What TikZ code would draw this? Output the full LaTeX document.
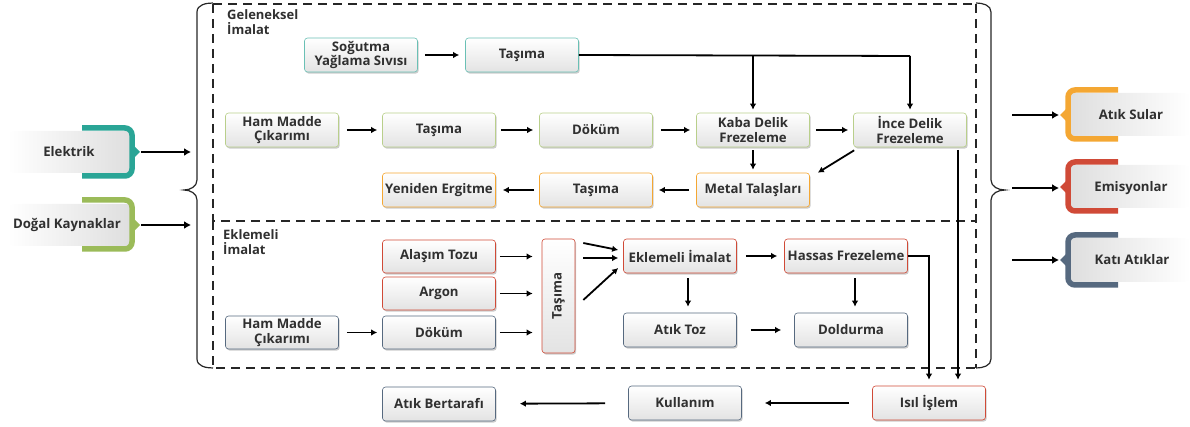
\documentclass[tikz,border=0pt]{standalone}
\usepackage{fontspec}
\setmainfont{Open Sans}
\usetikzlibrary{arrows.meta,shadows,calc}
\definecolor{cteal}{HTML}{2AA596}
\definecolor{cgreen}{HTML}{9BBB59}
\definecolor{corange}{HTML}{F4A733}
\definecolor{cred}{HTML}{D04A37}
\definecolor{cslate}{HTML}{56697F}
\definecolor{ctext}{HTML}{303030}
\tikzset{
  box/.style={draw=#1, line width=0.6pt, rounded corners=3pt, top color=white, bottom color=black!11,
    minimum width=113pt, minimum height=34pt, align=center, text=ctext, inner sep=1pt,
    drop shadow={shadow xshift=1.2pt, shadow yshift=-1.6pt, opacity=0.2, fill=black}},
  arr/.style={line width=1.8pt, -{Latex[length=6pt,width=6.5pt]}},
  bigarr/.style={line width=2.6pt, -{Latex[length=7pt,width=8pt]}},
  ln/.style={line width=1.8pt},
  lbl/.style={text=ctext, align=left, anchor=north west, inner sep=0pt, font=\bfseries\fontsize{13}{15}\selectfont},
  sidetxt/.style={text=ctext, inner sep=0pt},
  dash box/.style={line width=1.2pt, dash pattern=on 9pt off 6pt, black!85},
  brace/.style={line width=1.2pt, black!85}
}
\begin{document}
\begin{tikzpicture}[x=1pt,y=-1pt, font=\bfseries\fontsize{13.2}{14.5}\selectfont]
\useasboundingbox (0,0) rectangle (1190,427);

% braces
\draw[brace] (213,3) to[out=180,in=90] (197,12) -- (197,180) to[out=-90,in=0] (184,190)
  to[out=0,in=90] (197,200) -- (197,359) to[out=-90,in=180] (213,368);
\draw[brace] (976,3) to[out=0,in=90] (991,12) -- (991,180) to[out=-90,in=180] (1005,190)
  to[out=180,in=90] (991,200) -- (991,359) to[out=-90,in=0] (976,368);

% dashed frames
\draw[dash box] (213,4) -- (976,4);
\draw[dash box] (213,4) -- (213,221) -- (976,221);
\draw[dash box] (213,221) -- (213,368) -- (976,368);
\draw[dash box] (976,4) -- (976,368);

\node[lbl] (gel) at (227,9) {Geleneksel\\İmalat};
\node[lbl] (ekm) at (223,229) {Eklemeli\\İmalat};

% left side items
\shade[left color=white, right color=black!13, rounded corners=5pt] (8,131) rectangle (133,173);
\draw[cteal, line width=5.5pt, rounded corners=7pt] (82,128) -- (132,128) -- (132,176) -- (82,176);
\fill[cteal] (134,146) -- (140,152) -- (134,158) -- cycle;
\node[sidetxt] (elek) at (69,152) {Elektrik};
\coordinate (elekout) at (141,152);
\coordinate (lb1) at (191,152);

\shade[left color=white, right color=black!13, rounded corners=5pt] (8,204) rectangle (133,246);
\draw[cgreen, line width=5.5pt, rounded corners=7pt] (82,200) -- (132,200) -- (132,249) -- (82,249);
\fill[cgreen] (134,219) -- (140,225) -- (134,231) -- cycle;
\node[sidetxt] (dogal) at (67,225) {Doğal Kaynaklar};
\coordinate (dogalout) at (141,225);
\coordinate (lb2) at (191,225);

\draw[bigarr] (elekout) -- (lb1);
\draw[bigarr] (dogalout) -- (lb2);

% right side items
\shade[left color=black!13, right color=white, rounded corners=5pt] (1068,93) rectangle (1190,136);
\draw[corange, line width=5.5pt, rounded corners=7pt] (1118,90) -- (1068,90) -- (1068,139) -- (1118,139);
\fill[corange] (1066,109) -- (1060,115) -- (1066,121) -- cycle;
\node[sidetxt] (atik) at (1131,115) {Atık Sular};

\shade[left color=black!13, right color=white, rounded corners=5pt] (1068,165) rectangle (1190,208);
\draw[cred, line width=5.5pt, rounded corners=7pt] (1118,162) -- (1068,162) -- (1068,211) -- (1118,211);
\fill[cred] (1066,181) -- (1060,187) -- (1066,193) -- cycle;
\node[sidetxt] (emis) at (1131,188) {Emisyonlar};

\shade[left color=black!13, right color=white, rounded corners=5pt] (1068,238) rectangle (1190,282);
\draw[cslate, line width=5.5pt, rounded corners=7pt] (1118,235) -- (1068,235) -- (1068,285) -- (1118,285);
\fill[cslate] (1066,254) -- (1060,260) -- (1066,266) -- cycle;
\node[sidetxt] (kati) at (1132,260) {Katı Atıklar};

\coordinate (rb1) at (1012,115);
\coordinate (rb2) at (1012,188);
\coordinate (rb3) at (1012,260);
\coordinate (atikin) at (1059,115);
\coordinate (emisin) at (1059,188);
\coordinate (katiin) at (1059,260);
\draw[bigarr] (rb1) -- (atikin);
\draw[bigarr] (rb2) -- (emisin);
\draw[bigarr] (rb3) -- (katiin);

% Geleneksel nodes
\node[box=cteal!70] (sog) at (361,55) {Soğutma\\Yağlama Sıvısı};
\node[box=cteal!70] (tas1) at (522,55) {Taşıma};
\node[box=cgreen!70] (ham1) at (282,130) {Ham Madde\\Çıkarımı};
\node[box=cgreen!70] (tas2) at (439,130) {Taşıma};
\node[box=cgreen!70] (dok1) at (596,130) {Döküm};
\node[box=cgreen!70] (kaba) at (753,130) {Kaba Delik\\Frezeleme};
\node[box=cgreen!70] (ince) at (910,130) {İnce Delik\\Frezeleme};
\node[box=corange] (yen) at (439,190) {Yeniden Ergitme};
\node[box=corange] (tas4) at (596,190) {Taşıma};
\node[box=corange] (metal) at (753,190) {Metal Talaşları};

% Eklemeli nodes
\node[box=cred, minimum height=33pt] (alas) at (439,256.5) {Alaşım Tozu};
\node[box=cred, minimum height=33pt] (argon) at (439,293.5) {Argon};
\node[box=cslate, minimum height=33pt] (dok2) at (439,332.5) {Döküm};
\node[box=cslate, minimum height=33pt] (ham2) at (282,332.5) {Ham Madde\\Çıkarımı};
\node[box=cred, minimum width=33pt, minimum height=114pt] (tas3) at (558.5,296) {\rotatebox{90}{Taşıma}};
\node[box=cred] (ekl) at (680,256) {Eklemeli İmalat};
\node[box=cred, minimum width=123pt] (has) at (846,256) {Hassas Frezeleme};
\node[box=cslate] (atoz) at (680,330) {Atık Toz};
\node[box=cslate] (dold) at (851,330) {Doldurma};

% bottom row
\node[box=cred] (isil) at (929,403) {Isıl İşlem};
\node[box=cslate] (kul) at (685,403) {Kullanım};
\node[box=cslate] (bert) at (439,404) {Atık Bertarafı};

% connectors Geleneksel
\draw[arr, shorten <=7pt, shorten >=6pt] (sog) -- (tas1);
\coordinate (j1) at (753,56);
\coordinate (j2) at (910,56);
\draw[ln] (tas1.east) -- (j2);
\draw[arr, shorten >=3pt] (j1) -- (kaba.north);
\draw[arr, shorten >=3pt] (j2) -- (ince.north);
\draw[arr, shorten <=8pt, shorten >=5pt] (ham1) -- (tas2);
\draw[arr, shorten <=5pt, shorten >=6pt] (tas2) -- (dok1);
\draw[arr, shorten <=8pt, shorten >=6pt] (dok1) -- (kaba);
\draw[arr, shorten <=6pt, shorten >=5pt] (kaba) -- (ince);
\draw[arr, shorten <=3pt, shorten >=3pt] (kaba) -- (metal);
\draw[arr] ($(ince.south west)+(1,3)$) -- ($(metal.north east)+(8,0)$);
\draw[arr, shorten <=7pt, shorten >=6pt] (metal) -- (tas4);
\draw[arr, shorten <=5pt, shorten >=7pt] (tas4) -- (yen);

% connectors Eklemeli
\draw[arr, shorten <=8pt, shorten >=5pt] (ham2) -- (dok2);
\draw[arr, shorten <=4pt, shorten >=9pt] (alas.east) -- (alas.east -| tas3.west);
\draw[arr, shorten <=4pt, shorten >=9pt] (argon.east) -- (argon.east -| tas3.west);
\draw[arr, shorten <=4pt, shorten >=9pt] (dok2.east) -- (dok2.east -| tas3.west);
\draw[arr] ($(tas3.east)+(8,-53)$) -- ($(ekl.west)+(-5,-6)$);
\draw[arr] ($(tas3.east)+(8,-38)$) -- ($(ekl.west)+(-5,2)$);
\draw[arr] ($(tas3.east)+(8,4)$) -- ($(ekl.west)+(-5,12)$);
\draw[arr, shorten <=9pt, shorten >=7pt] (ekl) -- (has);
\coordinate (e1) at ($(ekl.south)+(8,0)$);
\coordinate (h1) at ($(has.south)+(9,0)$);
\draw[arr, shorten <=5pt, shorten >=6pt] (e1) -- (e1 |- atoz.north);
\draw[arr, shorten <=5pt, shorten >=6pt] (h1) -- (h1 |- dold.north);
\draw[arr, shorten <=14pt, shorten >=13pt] (atoz) -- (dold);

% to Isil
\draw[arr, shorten >=6pt] (has.east) -| (isil.north);
\coordinate (i1) at (958,150);
\draw[arr, shorten >=6pt] (i1) -- (i1 |- isil.north);
\draw[arr, shorten <=23pt, shorten >=23pt] (isil) -- (kul);
\draw[arr, shorten <=23pt, shorten >=24pt] (kul) -- (bert);
\end{tikzpicture}
\end{document}
